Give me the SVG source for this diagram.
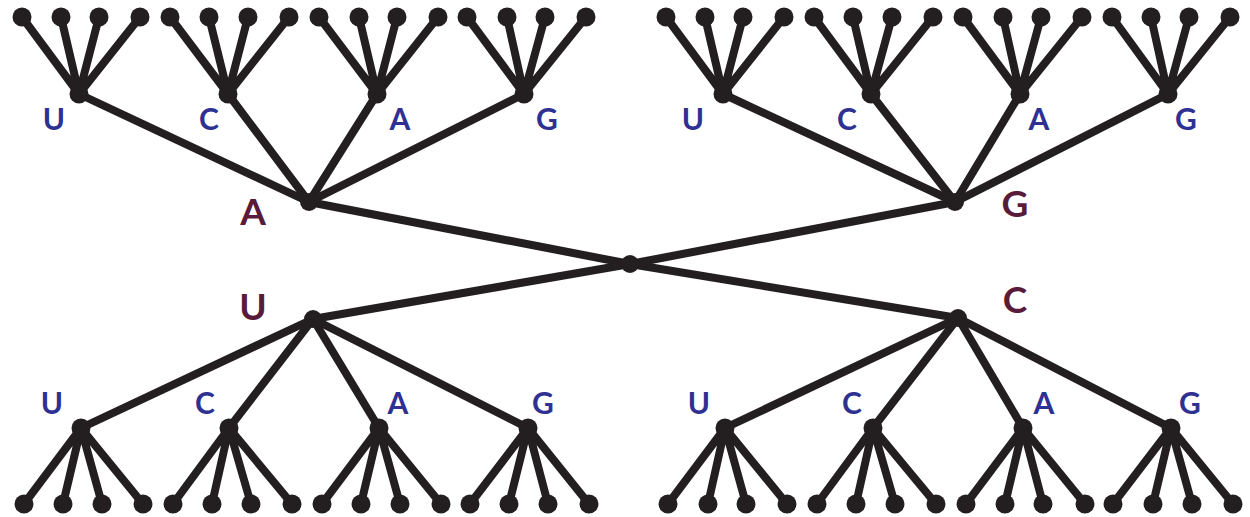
<svg xmlns="http://www.w3.org/2000/svg" width="1250" height="517" viewBox="0 0 1250 517">
  <style>
    .edge { stroke: #231f20; stroke-width: 8; stroke-linecap: round; fill: none; }
    .dot { fill: #231f20; }
    .base { font-family: Lato, "Open Sans", "Liberation Sans", sans-serif; font-weight: 700; text-anchor: middle; }
    .b2 { fill: #2e3192; font-size: 30px; }
    .b1 { fill: #5a1a3a; font-size: 37px; }
  </style>
  <rect width="1250" height="517" fill="#ffffff"/>

  <!-- branches -->
  <g id="connectors" class="edge">
    <!-- first position to the root -->
    <line x1="630" y1="264" x2="309" y2="202"/>
    <line x1="630" y1="264" x2="955" y2="202"/>
    <line x1="630" y1="264" x2="313" y2="319"/>
    <line x1="630" y1="264" x2="958" y2="318"/>
    <!-- second position -->
    <line x1="309" y1="202" x2="79" y2="94"/>
    <line x1="309" y1="202" x2="228" y2="94"/>
    <line x1="309" y1="202" x2="377" y2="94"/>
    <line x1="309" y1="202" x2="524" y2="94"/>
    <line x1="955" y1="202" x2="723" y2="94"/>
    <line x1="955" y1="202" x2="871" y2="94"/>
    <line x1="955" y1="202" x2="1020" y2="94"/>
    <line x1="955" y1="202" x2="1168" y2="94"/>
    <line x1="313" y1="319" x2="81" y2="428"/>
    <line x1="313" y1="319" x2="229" y2="428"/>
    <line x1="313" y1="319" x2="379" y2="428"/>
    <line x1="313" y1="319" x2="528" y2="428"/>
    <line x1="958" y1="318" x2="725" y2="428"/>
    <line x1="958" y1="318" x2="873" y2="428"/>
    <line x1="958" y1="318" x2="1023" y2="428"/>
    <line x1="958" y1="318" x2="1171" y2="428"/>
    <!-- third position, upper half -->
    <path d="M79 94L22 17M79 94L61 17M79 94L99 17M79 94L140 17"/>
    <path d="M228 94L170 17M228 94L209 17M228 94L248 17M228 94L289 17"/>
    <path d="M377 94L319 17M377 94L359 17M377 94L397 17M377 94L438 17"/>
    <path d="M524 94L467 17M524 94L507 17M524 94L545 17M524 94L586 17"/>
    <path d="M723 94L666 17M723 94L705 17M723 94L743 17M723 94L784 17"/>
    <path d="M871 94L814 17M871 94L853 17M871 94L892 17M871 94L933 17"/>
    <path d="M1020 94L963 17M1020 94L1003 17M1020 94L1041 17M1020 94L1082 17"/>
    <path d="M1168 94L1112 17M1168 94L1151 17M1168 94L1189 17M1168 94L1230 17"/>
    <!-- third position, lower half -->
    <path d="M81 428L24 504M81 428L63 504M81 428L102 504M81 428L143 504"/>
    <path d="M229 428L173 504M229 428L212 504M229 428L251 504M229 428L292 504"/>
    <path d="M379 428L322 504M379 428L361 504M379 428L400 504M379 428L441 504"/>
    <path d="M528 428L470 504M528 428L509 504M528 428L548 504M528 428L589 504"/>
    <path d="M725 428L668 504M725 428L708 504M725 428L746 504M725 428L787 504"/>
    <path d="M873 428L817 504M873 428L856 504M873 428L895 504M873 428L936 504"/>
    <path d="M1023 428L966 504M1023 428L1005 504M1023 428L1043 504M1023 428L1085 504"/>
    <path d="M1171 428L1113 504M1171 428L1153 504M1171 428L1192 504M1171 428L1233 504"/>
  </g>

  <g id="root"><circle class="dot" cx="630" cy="264" r="9"/></g>

  <!-- first position -->
  <g id="n-A"><circle class="dot" cx="309" cy="202" r="9"/><text class="base b1" x="253" y="225">A</text></g>
  <g id="n-G"><circle class="dot" cx="955" cy="202" r="9"/><text class="base b1" x="1015" y="217">G</text></g>
  <g id="n-U"><circle class="dot" cx="313" cy="319" r="9"/><text class="base b1" x="253" y="320">U</text></g>
  <g id="n-C"><circle class="dot" cx="958" cy="318" r="9"/><text class="base b1" x="1015" y="313">C</text></g>

  <!-- second position -->
  <g id="n-AU"><circle class="dot" cx="79" cy="94" r="9.5"/><text class="base b2" x="54" y="130">U</text></g>
  <g id="n-AC"><circle class="dot" cx="228" cy="94" r="9.5"/><text class="base b2" x="209" y="130">C</text></g>
  <g id="n-AA"><circle class="dot" cx="377" cy="94" r="9.5"/><text class="base b2" x="400" y="130">A</text></g>
  <g id="n-AG"><circle class="dot" cx="524" cy="94" r="9.5"/><text class="base b2" x="547" y="130">G</text></g>
  <g id="n-GU"><circle class="dot" cx="723" cy="94" r="9.5"/><text class="base b2" x="693" y="130">U</text></g>
  <g id="n-GC"><circle class="dot" cx="871" cy="94" r="9.5"/><text class="base b2" x="847" y="130">C</text></g>
  <g id="n-GA"><circle class="dot" cx="1020" cy="94" r="9.5"/><text class="base b2" x="1039" y="130">A</text></g>
  <g id="n-GG"><circle class="dot" cx="1168" cy="94" r="9.5"/><text class="base b2" x="1186" y="130">G</text></g>
  <g id="n-UU"><circle class="dot" cx="81" cy="428" r="9.5"/><text class="base b2" x="52" y="414">U</text></g>
  <g id="n-UC"><circle class="dot" cx="229" cy="428" r="9.5"/><text class="base b2" x="205" y="414">C</text></g>
  <g id="n-UA"><circle class="dot" cx="379" cy="428" r="9.5"/><text class="base b2" x="398" y="414">A</text></g>
  <g id="n-UG"><circle class="dot" cx="528" cy="428" r="9.5"/><text class="base b2" x="543" y="414">G</text></g>
  <g id="n-CU"><circle class="dot" cx="725" cy="428" r="9.5"/><text class="base b2" x="699" y="414">U</text></g>
  <g id="n-CC"><circle class="dot" cx="873" cy="428" r="9.5"/><text class="base b2" x="852" y="414">C</text></g>
  <g id="n-CA"><circle class="dot" cx="1023" cy="428" r="9.5"/><text class="base b2" x="1044" y="414">A</text></g>
  <g id="n-CG"><circle class="dot" cx="1171" cy="428" r="9.5"/><text class="base b2" x="1190" y="414">G</text></g>

  <!-- third position (codon ends) -->
  <g id="leaves-top" class="dot">
    <circle cx="22" cy="17" r="9.5"/><circle cx="61" cy="17" r="9.5"/><circle cx="99" cy="17" r="9.5"/><circle cx="140" cy="17" r="9.5"/>
    <circle cx="170" cy="17" r="9.5"/><circle cx="209" cy="17" r="9.5"/><circle cx="248" cy="17" r="9.5"/><circle cx="289" cy="17" r="9.5"/>
    <circle cx="319" cy="17" r="9.5"/><circle cx="359" cy="17" r="9.5"/><circle cx="397" cy="17" r="9.5"/><circle cx="438" cy="17" r="9.5"/>
    <circle cx="467" cy="17" r="9.5"/><circle cx="507" cy="17" r="9.5"/><circle cx="545" cy="17" r="9.5"/><circle cx="586" cy="17" r="9.5"/>
    <circle cx="666" cy="17" r="9.5"/><circle cx="705" cy="17" r="9.5"/><circle cx="743" cy="17" r="9.5"/><circle cx="784" cy="17" r="9.5"/>
    <circle cx="814" cy="17" r="9.5"/><circle cx="853" cy="17" r="9.5"/><circle cx="892" cy="17" r="9.5"/><circle cx="933" cy="17" r="9.5"/>
    <circle cx="963" cy="17" r="9.5"/><circle cx="1003" cy="17" r="9.5"/><circle cx="1041" cy="17" r="9.5"/><circle cx="1082" cy="17" r="9.5"/>
    <circle cx="1112" cy="17" r="9.5"/><circle cx="1151" cy="17" r="9.5"/><circle cx="1189" cy="17" r="9.5"/><circle cx="1230" cy="17" r="9.5"/>
  </g>
  <g id="leaves-bottom" class="dot">
    <circle cx="24" cy="504" r="9.5"/><circle cx="63" cy="504" r="9.5"/><circle cx="102" cy="504" r="9.5"/><circle cx="143" cy="504" r="9.5"/>
    <circle cx="173" cy="504" r="9.5"/><circle cx="212" cy="504" r="9.5"/><circle cx="251" cy="504" r="9.5"/><circle cx="292" cy="504" r="9.5"/>
    <circle cx="322" cy="504" r="9.5"/><circle cx="361" cy="504" r="9.5"/><circle cx="400" cy="504" r="9.5"/><circle cx="441" cy="504" r="9.5"/>
    <circle cx="470" cy="504" r="9.5"/><circle cx="509" cy="504" r="9.5"/><circle cx="548" cy="504" r="9.5"/><circle cx="589" cy="504" r="9.5"/>
    <circle cx="668" cy="504" r="9.5"/><circle cx="708" cy="504" r="9.5"/><circle cx="746" cy="504" r="9.5"/><circle cx="787" cy="504" r="9.5"/>
    <circle cx="817" cy="504" r="9.5"/><circle cx="856" cy="504" r="9.5"/><circle cx="895" cy="504" r="9.5"/><circle cx="936" cy="504" r="9.5"/>
    <circle cx="966" cy="504" r="9.5"/><circle cx="1005" cy="504" r="9.5"/><circle cx="1043" cy="504" r="9.5"/><circle cx="1085" cy="504" r="9.5"/>
    <circle cx="1113" cy="504" r="9.5"/><circle cx="1153" cy="504" r="9.5"/><circle cx="1192" cy="504" r="9.5"/><circle cx="1233" cy="504" r="9.5"/>
  </g>
</svg>
